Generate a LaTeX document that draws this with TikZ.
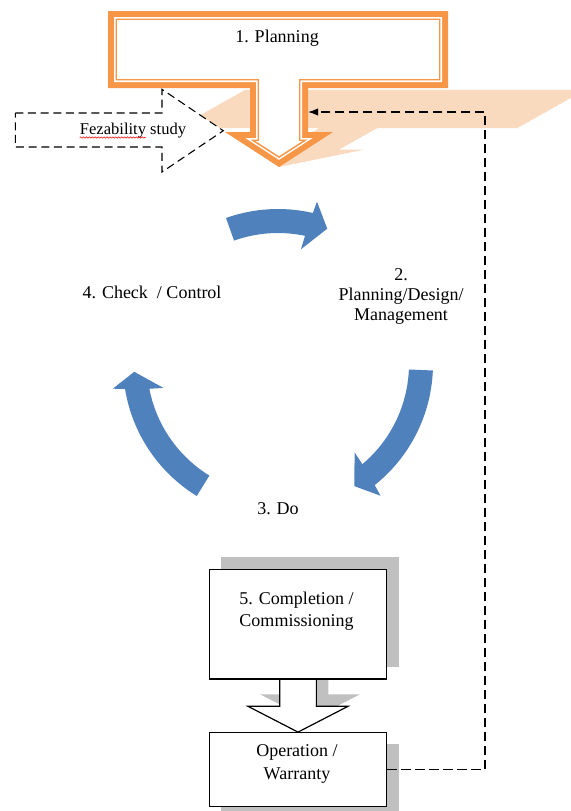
\documentclass[tikz,border=0pt]{standalone}
\usepackage{fontspec}
\setmainfont{Liberation Serif}
\usetikzlibrary{calc,arrows.meta,decorations.pathmorphing}
\pgfdeclarelayer{bg}
\pgfsetlayers{bg,main}
\definecolor{plorange}{HTML}{F79646}
\definecolor{plshadow}{HTML}{FADABE}
\definecolor{cycblue}{HTML}{4F81BD}
\definecolor{boxshadow}{HTML}{C0C0C0}
% planning block arrow, inset by #1 px
\newcommand\plpath[1]{({108+#1},{11+#1}) -- ({448-#1},{11+#1}) -- ({448-#1},{88-#1}) -- ({308-#1},{88-#1}) -- ({308-#1},{132+#1}) -- ({333-3.38*#1},{132+#1}) -- (279,{167-1.192*#1}) -- ({225+3.38*#1},{132+#1}) -- ({250+#1},{132+#1}) -- ({250+#1},{88-#1}) -- ({108+#1},{88-#1}) -- cycle}
% block arrow between the two lower boxes, shifted by (#1,#2)
\newcommand\blockpath[2]{($(comp.south)+({-18.35+#1},{#2})$) -- ($(comp.south)+({-18.35+#1},{27.4+#2})$) -- ($(comp.south)+({-50+#1},{27.4+#2})$) -- ($(op.north)+({#1},{#2})$) -- ($(comp.south)+({50+#1},{27.4+#2})$) -- ($(comp.south)+({18.35+#1},{27.4+#2})$) -- ($(comp.south)+({18.35+#1},{#2})$) -- cycle}
\begin{document}
\begin{tikzpicture}[x=0.75pt,y=-0.75pt,
  txt/.style={inner sep=0pt, text=black, font=\fontsize{13.5pt}{16pt}\selectfont},
  feedback/.style={draw=black, line width=0.9pt, dash pattern=on 7pt off 3.5pt},
  fezstyle/.style={draw=black, fill=white, line width=0.8pt, dash pattern=on 6pt off 3.5pt},
  boxnode/.style={draw=black, fill=white, line width=0.9pt, inner sep=0pt, minimum width=133pt},
  shadowfill/.style={fill=boxshadow}]
\useasboundingbox (0,0) rectangle (571,811);

% ---- perspective shadow of the planning arrow
\begin{pgfonlayer}{bg}
\fill[plshadow] (245.1,89.9) -- (585.1,89.9) -- (517.4,128) -- (377.4,128) -- (338.8,149.7) -- (363.8,149.7) -- (279,167) -- (255.8,149.7) -- (280.8,149.7) -- (319.4,128) -- (177.4,128) -- cycle;
\end{pgfonlayer}

% ---- feasibility study arrow
\draw[fezstyle] (15.3,113) -- (162,113) -- (162,89.3) -- (223.3,130.7) -- (162,172) -- (162,147) -- (15.3,147) -- cycle;
\node[inner sep=0pt, anchor=base, font=\fontsize{12.4pt}{14pt}\selectfont] (feztxt) at (133,134.5) {Fezability study};
\draw[red, line width=0.4pt, decorate, decoration={snake, amplitude=0.5pt, segment length=2.2pt}] ($(feztxt.base west)+(0,3)$) -- ++(66,0);

% ---- 1. Planning arrow (double orange border)
\fill[plorange] \plpath{0};
\fill[white] \plpath{6};
\draw[plorange, line width=1.1pt] \plpath{8.25};
\node[txt, anchor=base] (plan) at (277,42.5) {1. Planning};

% ---- cycle arrows
\begin{scope}[shift={(278,364)}]
\fill[cycblue] (-109.6:155) arc[start angle=-109.6, end angle=-77, radius=155] -- (-76.5:167) -- (-70:144) -- (-78.7:117) -- (-78.1:131) arc[start angle=-78.1, end angle=-109.6, radius=131] -- cycle;
\fill[cycblue] (2.4:155) arc[start angle=2.4, end angle=51.4, radius=155] -- (52.1:167) -- (58:144) -- (49.1:117) -- (49.9:131) arc[start angle=49.9, end angle=2.4, radius=131] -- cycle;
\fill[cycblue] (121.6:155) arc[start angle=121.6, end angle=170.7, radius=155] -- (171.5:167) -- (176.9:144) -- (168.2:117) -- (169.1:131) arc[start angle=169.1, end angle=121.6, radius=131] -- cycle;
\end{scope}
\node[txt, anchor=base] (chk) at (152,298.5) {4. Check\ \ / Control};
\node[txt, align=center, font=\fontsize{13.5pt}{14.8pt}\selectfont] (pdm) at (401,296.5) {2.\\Planning/Design/\\Management};
\node[txt, anchor=base] (do) at (278,514) {3. Do};

% ---- lower boxes
\node[boxnode, minimum height=81.75pt] (comp) at (298,623.8) {};
\node[boxnode, minimum height=55.5pt] (op) at (298,769.7) {};
\begin{pgfonlayer}{bg}
\fill[shadowfill] ($(comp.north west)+(12,-12)$) rectangle ($(comp.south east)+(12,-12)$);
\fill[shadowfill] \blockpath{12}{-12};
\fill[shadowfill] ($(op.north west)+(12,12)$) rectangle ($(op.south east)+(12,12)$);
\end{pgfonlayer}
\draw[black, fill=white, line width=0.9pt] \blockpath{0}{0};
\draw[black, line width=0.9pt] (comp.south west) -- (comp.south east);
\node[txt, align=left, font=\fontsize{13.5pt}{16.5pt}\selectfont] (comptxt) at (296.5,611) {5. Completion /\\Commissioning};
\node[txt, align=center, font=\fontsize{13.5pt}{17pt}\selectfont] (optxt) at (297,763.7) {Operation /\\Warranty};

% ---- feedback loop
\coordinate (fbturn) at (485,112);
\coordinate (plstem) at (308,112);
\draw[feedback, -{Latex[length=7.5pt,width=5.5pt]}] (op.east) -| (fbturn) -- (plstem);
\end{tikzpicture}
\end{document}
